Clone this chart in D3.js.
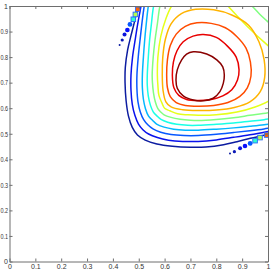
<!DOCTYPE html>
<html>
<head>
<meta charset="utf-8">
<script src="https://cdn.jsdelivr.net/npm/d3@7"></script>
<style>
  body { margin: 0; background: #fff; }
  text { font-family: "Liberation Sans", Arial, sans-serif; }
</style>
</head>
<body>
<div id="chart"></div>
<script>
// axis ticks
var xTicks = [0, 0.1, 0.2, 0.3, 0.4, 0.5, 0.6, 0.7, 0.8, 0.9, 1];
var xTickLabels = ["0", "0.1", "0.2", "0.3", "0.4", "0.5", "0.6", "0.7", "0.8", "0.9", "1"];
var yTicks = [0, 0.1, 0.2, 0.3, 0.4, 0.5, 0.6, 0.7, 0.8, 0.9, 1];
var yTickLabels = ["0", "0.1", "0.2", "0.3", "0.4", "0.5", "0.6", "0.7", "0.8", "0.9", "1"];

// contour levels (0 = outermost, 1 = innermost)
var levels = [0, 0.1, 0.2, 0.3, 0.4, 0.5, 0.6, 0.7, 0.8, 0.9, 1];
var closedLevels = [false, false, false, false, false, true, true, true, true, true, true];

// contour lines, [x, y]
var c1 = [[0.505,1.03],[0.494,0.985],[0.482,0.932],[0.469,0.88],[0.457,0.828],[0.448,0.76],[0.447,0.70],[0.451,0.63],[0.460,0.57],[0.475,0.525],[0.495,0.495],[0.525,0.475],[0.57,0.460],[0.63,0.451],[0.70,0.447],[0.76,0.448],[0.828,0.457],[0.88,0.469],[0.932,0.482],[0.985,0.494],[1.03,0.505]];
var c2 = [[0.514,1.03],[0.506,0.985],[0.496,0.93],[0.486,0.867],[0.476,0.80],[0.470,0.73],[0.470,0.67],[0.475,0.615],[0.485,0.572],[0.499,0.538],[0.516,0.516],[0.538,0.499],[0.572,0.485],[0.615,0.475],[0.67,0.470],[0.73,0.470],[0.80,0.476],[0.867,0.486],[0.93,0.496],[0.985,0.506],[1.03,0.514]];
var c3 = [[0.526,1.03],[0.519,0.985],[0.512,0.93],[0.505,0.867],[0.498,0.80],[0.493,0.73],[0.493,0.675],[0.497,0.625],[0.506,0.585],[0.519,0.555],[0.535,0.535],[0.555,0.519],[0.585,0.506],[0.625,0.497],[0.675,0.493],[0.73,0.493],[0.80,0.498],[0.867,0.505],[0.93,0.512],[0.985,0.519],[1.03,0.526]];
var c4 = [[0.542,1.03],[0.535,0.985],[0.529,0.93],[0.523,0.867],[0.518,0.80],[0.514,0.73],[0.514,0.68],[0.518,0.635],[0.526,0.598],[0.538,0.569],[0.553,0.553],[0.569,0.538],[0.598,0.526],[0.635,0.518],[0.68,0.514],[0.73,0.514],[0.80,0.518],[0.867,0.523],[0.93,0.529],[0.985,0.535],[1.03,0.542]];
var c5 = [[0.563,1.03],[0.555,0.985],[0.549,0.93],[0.542,0.867],[0.537,0.80],[0.533,0.73],[0.533,0.69],[0.537,0.647],[0.545,0.612],[0.556,0.586],[0.57,0.57],[0.586,0.556],[0.612,0.545],[0.647,0.537],[0.69,0.533],[0.73,0.533],[0.80,0.537],[0.867,0.542],[0.93,0.549],[0.985,0.555],[1.03,0.563]];
var c6 = [[0.552,0.73],[0.556,0.80],[0.563,0.867],[0.572,0.93],[0.582,1.0],[0.60,1.06],[0.75,1.12],[0.91,1.03],[0.938,1.0],[0.968,0.968],[1.0,0.938],[1.03,0.91],[1.12,0.75],[1.06,0.60],[1.0,0.582],[0.93,0.572],[0.867,0.563],[0.80,0.556],[0.73,0.552],[0.70,0.553],[0.66,0.557],[0.625,0.564],[0.598,0.574],[0.585,0.585],[0.574,0.598],[0.564,0.625],[0.557,0.66],[0.553,0.70]];
var c7 = [[0.572,0.73],[0.574,0.80],[0.585,0.88],[0.605,0.95],[0.627,1.0],[0.66,1.04],[0.75,1.06],[0.82,1.03],[0.845,1.0],[0.92,0.92],[1.0,0.845],[1.03,0.82],[1.06,0.75],[1.04,0.66],[1.0,0.627],[0.95,0.605],[0.88,0.585],[0.80,0.574],[0.73,0.572],[0.69,0.574],[0.65,0.578],[0.62,0.59],[0.60,0.60],[0.59,0.62],[0.578,0.65],[0.574,0.69]];
var c8 = [[0.591,0.73],[0.593,0.80],[0.603,0.87],[0.625,0.93],[0.665,0.97],[0.72,0.987],[0.79,0.985],[0.86,0.965],[0.925,0.925],[0.965,0.86],[0.985,0.79],[0.987,0.72],[0.97,0.665],[0.93,0.625],[0.87,0.603],[0.80,0.593],[0.73,0.591],[0.67,0.594],[0.625,0.605],[0.605,0.625],[0.594,0.67]];
var c9 = [[0.608,0.73],[0.611,0.79],[0.622,0.845],[0.645,0.89],[0.68,0.92],[0.725,0.934],[0.78,0.932],[0.835,0.915],[0.88,0.88],[0.915,0.835],[0.932,0.78],[0.934,0.725],[0.92,0.68],[0.89,0.645],[0.845,0.622],[0.79,0.611],[0.73,0.608],[0.68,0.611],[0.645,0.622],[0.622,0.645],[0.611,0.68]];
var c10 = [[0.630,0.73],[0.634,0.78],[0.648,0.825],[0.672,0.86],[0.71,0.882],[0.75,0.888],[0.80,0.877],[0.843,0.843],[0.877,0.80],[0.888,0.75],[0.882,0.71],[0.86,0.672],[0.825,0.648],[0.78,0.634],[0.73,0.630],[0.685,0.634],[0.655,0.65],[0.636,0.68]];
var c11 = [[0.711,0.821],[0.763,0.812],[0.802,0.789],[0.825,0.762],[0.831,0.730],[0.827,0.697],[0.814,0.665],[0.788,0.639],[0.750,0.629],[0.711,0.632],[0.672,0.648],[0.649,0.678],[0.644,0.710],[0.649,0.750],[0.666,0.789],[0.685,0.812]];
var contourLines = [c1, c2, c3, c4, c5, c6, c7, c8, c9, c10, c11];

// marker trails (upper-left and lower-right), value sets the colour
var trailUpX = [0.426, 0.436, 0.445, 0.456, 0.466, 0.479, 0.487, 0.496];
var trailUpY = [0.847, 0.867, 0.888, 0.906, 0.928, 0.948, 0.967, 0.987];
var trailLowX = [0.853, 0.870, 0.892, 0.911, 0.931, 0.950, 0.969, 0.995];
var trailLowY = [0.423, 0.430, 0.443, 0.452, 0.462, 0.473, 0.485, 0.495];
var trailValue = [0.0, 0.03, 0.08, 0.12, 0.2, 0.42, 0.55, 0.78];
var trailSize = [1.0, 1.6, 2.0, 2.3, 2.4, 2.3, 2.3, 2.3];
var trailSquare = [false, false, false, false, false, true, true, true];

const width = 273;
const height = 273;

const svg = d3.select("#chart").append("svg")
    .attr("width", width)
    .attr("height", height);

const x = d3.scaleLinear().domain([0, 1]).range([9.5, 268]);
const y = d3.scaleLinear().domain([0, 1]).range([261.5, 6]);

// jet colormap (slightly lifted dark end like the antialiased original)
const jet = d3.scaleLinear()
    .domain([0, 0.125, 0.375, 0.625, 0.875, 1])
    .range(["#0c1ca0", "#0a10ff", "#00ffff", "#ffff00", "#ff0000", "#8a0000"]);

svg.append("clipPath").attr("id", "plot-area")
    .append("rect")
    .attr("x", x(0)).attr("y", y(1))
    .attr("width", x(1) - x(0)).attr("height", y(0) - y(1));

const plot = svg.append("g").attr("clip-path", "url(#plot-area)");

// draw contours
contourLines.forEach(function(pts, i) {
    let line = d3.line()
        .x(d => x(d[0]))
        .y(d => y(d[1]))
        .curve(closedLevels[i] ? d3.curveCatmullRomClosed : d3.curveCatmullRom);
    plot.append("path")
        .attr("d", line(pts))
        .attr("fill", "none")
        .attr("stroke", jet(levels[i]))
        .attr("stroke-width", 1.5);
});

// draw the marker trails
function drawTrail(xs, ys) {
    xs.forEach(function(v, i) {
        let cx = x(v), cy = y(ys[i]);
        let s = trailSize[i];
        if (trailSquare[i]) {
            plot.append("rect")
                .attr("x", cx - s).attr("y", cy - s)
                .attr("width", 2 * s).attr("height", 2 * s)
                .attr("fill", jet(trailValue[i]))
                .attr("stroke", "#2a6cff")
                .attr("stroke-width", 0.9);
        } else {
            plot.append("circle")
                .attr("cx", cx).attr("cy", cy).attr("r", s)
                .attr("fill", jet(trailValue[i]));
        }
    });
}
drawTrail(trailUpX, trailUpY);
drawTrail(trailLowX, trailLowY);

// axes, ticks inside like matlab
const axisColor = "#6e6e6e";
function styleAxis(g) {
    g.select(".domain").attr("stroke", axisColor);
    g.selectAll(".tick line").attr("stroke", axisColor);
    g.selectAll(".tick text").attr("fill", "#333").style("font-size", "7px");
}

svg.append("g")
    .attr("transform", `translate(0,${y(0)})`)
    .call(d3.axisBottom(x).tickValues(xTicks).tickSize(-3).tickSizeOuter(0).tickPadding(3)
        .tickFormat((d, i) => xTickLabels[i]))
    .call(styleAxis);

svg.append("g")
    .attr("transform", `translate(0,${y(1)})`)
    .call(d3.axisTop(x).tickValues(xTicks).tickSize(-3).tickSizeOuter(0).tickFormat(""))
    .call(styleAxis);

// y labels are squeezed into the narrow left margin
svg.append("g")
    .attr("transform", `translate(${x(0)},0)`)
    .call(d3.axisLeft(y).tickValues(yTicks).tickSize(-3).tickSizeOuter(0).tickPadding(1.5)
        .tickFormat((d, i) => yTickLabels[i]))
    .call(styleAxis)
    .selectAll(".tick text")
    .each(function(d, i) {
        if (yTickLabels[i].length > 1) {
            d3.select(this).attr("textLength", 7.6).attr("lengthAdjust", "spacingAndGlyphs");
        }
    });

svg.append("g")
    .attr("transform", `translate(${x(1)},0)`)
    .call(d3.axisRight(y).tickValues(yTicks).tickSize(-3).tickSizeOuter(0).tickFormat(""))
    .call(styleAxis);

svg.selectAll(".domain").attr("fill", "none");
</script>
</body>
</html>
